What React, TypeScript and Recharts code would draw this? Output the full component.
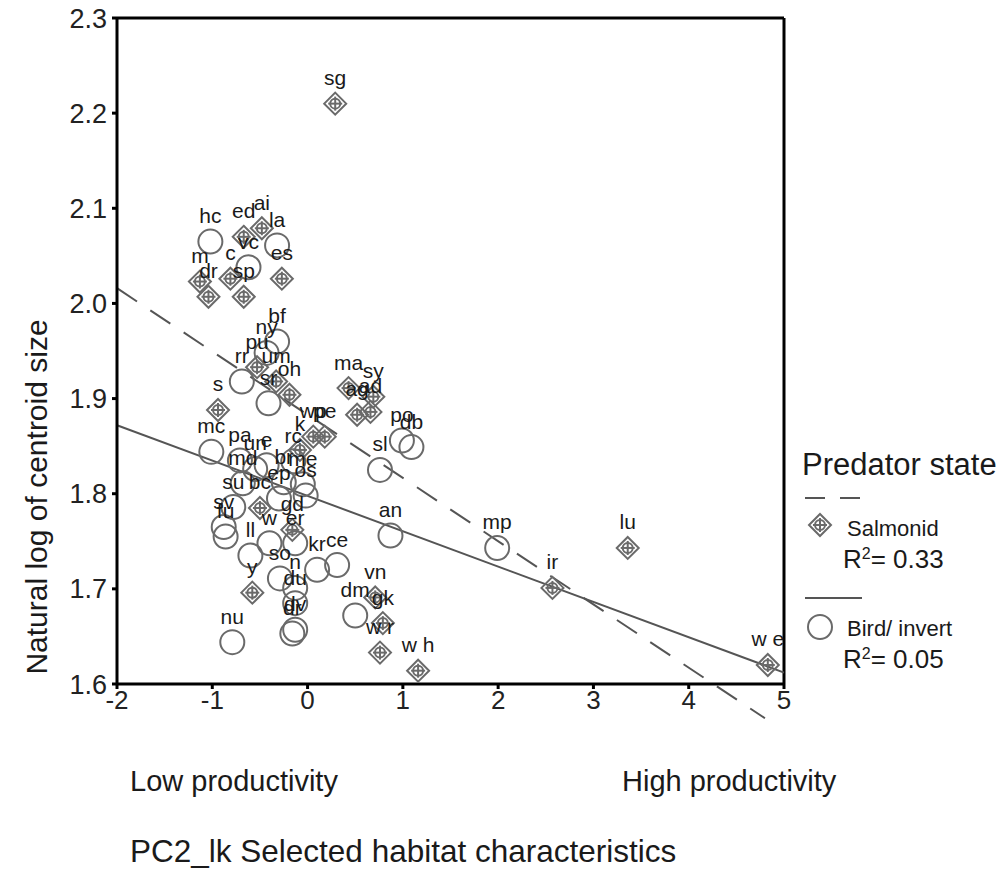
import React from 'react';
import {
  ScatterChart,
  Scatter,
  XAxis,
  YAxis,
  ReferenceLine,
  LabelList
} from 'recharts';

// Salmonid lakes (diamond markers)
const salmonidNames = ['sg', 'ai', 'ed', 'c', 'm', 'es', 'dr', 'sp', 'pu', 'um', 'oh', 's', 'ma', 'sy', 'ag', 'ad', 'wp', 'pe', 'k', 'bc', 'gd', 'y', 'vn', 'gk', 'w r', 'w h', 'ir', 'lu', 'w e'];
const salmonidX = [0.29, -0.48, -0.67, -0.81, -1.13, -0.27, -1.04, -0.67, -0.53, -0.33, -0.19, -0.94, 0.43, 0.69, 0.52, 0.66, 0.06, 0.18, -0.08, -0.5, -0.16, -0.58, 0.71, 0.79, 0.76, 1.16, 2.57, 3.36, 4.83];
const salmonidY = [2.21, 2.079, 2.07, 2.026, 2.023, 2.026, 2.007, 2.007, 1.933, 1.918, 1.904, 1.888, 1.911, 1.902, 1.883, 1.886, 1.86, 1.86, 1.846, 1.785, 1.762, 1.696, 1.691, 1.664, 1.633, 1.614, 1.701, 1.743, 1.62];

// Bird / invertebrate lakes (circle markers)
const birdNames = ['hc', 'la', 'vc', 'bf', 'ny', 'rr', 'sr', 'mc', 'pa', 'un', 'e', 'rc', 'md', 'br', 'me', 'su', 'ep', 'os', 'po', 'db', 'sl', 'sv', 'fu', 'w', 'er', 'll', 'kr', 'ce', 'so', 'n', 'du', 'dv', 'dr', 'dm', 'nu', 'an', 'mp'];
const birdX = [-1.02, -0.32, -0.62, -0.32, -0.43, -0.69, -0.41, -1.01, -0.71, -0.55, -0.43, -0.15, -0.68, -0.25, -0.05, -0.78, -0.3, -0.02, 0.99, 1.09, 0.76, -0.88, -0.86, -0.4, -0.13, -0.6, 0.1, 0.31, -0.29, -0.13, -0.13, -0.13, -0.16, 0.5, -0.79, 0.87, 1.99];
const birdY = [2.065, 2.061, 2.038, 1.96, 1.948, 1.918, 1.895, 1.844, 1.835, 1.826, 1.83, 1.834, 1.811, 1.812, 1.81, 1.786, 1.795, 1.798, 1.856, 1.849, 1.825, 1.765, 1.755, 1.748, 1.748, 1.735, 1.72, 1.725, 1.711, 1.701, 1.685, 1.657, 1.653, 1.672, 1.644, 1.756, 1.743];

const xTicks = [-2, -1, 0, 1, 2, 3, 4, 5];
const yTicks = [1.6, 1.7, 1.8, 1.9, 2.0, 2.1, 2.2, 2.3];

// fitted lines (start / end)
const salmonidFit = [{ x: -2, y: 2.016 }, { x: 4.8, y: 1.564 }];
const birdFit = [{ x: -2, y: 1.872 }, { x: 5, y: 1.612 }];

const salmonidData = salmonidNames.map((name, i) => ({ name, x: salmonidX[i], y: salmonidY[i] }));
const birdData = birdNames.map((name, i) => ({ name, x: birdX[i], y: birdY[i] }));

const FONT = '"Liberation Sans", Arial, sans-serif';
const MARK = '#6a6a6a';
const LINE = '#555555';

const Diamond = ({ cx, cy }: any) => (
  <g stroke={MARK} strokeWidth={2} fill="none">
    <path d={`M${cx},${cy - 11} L${cx + 11},${cy} L${cx},${cy + 11} L${cx - 11},${cy} Z`} />
    <circle cx={cx} cy={cy} r={5} />
    <line x1={cx - 7} y1={cy} x2={cx + 7} y2={cy} />
    <line x1={cx} y1={cy - 7} x2={cx} y2={cy + 7} />
  </g>
);

const Ring = ({ cx, cy }: any) => (
  <circle cx={cx} cy={cy} r={12} stroke={MARK} strokeWidth={2} fill="none" />
);

// point label, drawn as one line above the marker
const PointLabel = (props: any) => {
  const { x, y, width, value } = props;
  return (
    <text x={x + width / 2} y={y - 14} textAnchor="middle" fontSize={21} fill="#1a1a1a" fontFamily={FONT}>
      {value}
    </text>
  );
};

export default function App() {
  return (
    <div style={{ position: 'absolute', left: 0, top: 0, width: 1005, height: 869, background: '#fff', fontFamily: FONT }}>
      <ScatterChart
        width={1005}
        height={869}
        margin={{ top: 18, right: 221, bottom: 145, left: 37 }}
      >
        <XAxis
          type="number"
          dataKey="x"
          domain={[-2, 5]}
          ticks={xTicks}
          allowDataOverflow
          height={40}
          axisLine={{ stroke: '#000', strokeWidth: 3 }}
          tickLine={{ stroke: '#000', strokeWidth: 3 }}
          tickSize={5}
          tick={{ fontSize: 26, fill: '#222', fontFamily: FONT }}
        />
        <YAxis
          type="number"
          dataKey="y"
          domain={[1.6, 2.3]}
          ticks={yTicks}
          allowDataOverflow
          width={80}
          axisLine={{ stroke: '#000', strokeWidth: 3 }}
          tickLine={{ stroke: '#000', strokeWidth: 3 }}
          tickSize={5}
          tickMargin={5}
          tickFormatter={(v: number) => v.toFixed(1)}
          tick={{ fontSize: 27, fill: '#222', fontFamily: FONT }}
        />
        <ReferenceLine y={2.3} stroke="#000" strokeWidth={3} />
        <ReferenceLine x={5} stroke="#000" strokeWidth={3} />
        <ReferenceLine segment={salmonidFit} stroke={LINE} strokeWidth={2} strokeDasharray="24 16" ifOverflow="visible" />
        <ReferenceLine segment={birdFit} stroke={LINE} strokeWidth={2} ifOverflow="visible" />
        <Scatter data={birdData} shape={<Ring />} isAnimationActive={false}>
          <LabelList dataKey="name" content={<PointLabel />} />
        </Scatter>
        <Scatter data={salmonidData} shape={<Diamond />} isAnimationActive={false}>
          <LabelList dataKey="name" content={<PointLabel />} />
        </Scatter>
      </ScatterChart>

      <svg width={1005} height={869} style={{ position: 'absolute', left: 0, top: 0, pointerEvents: 'none' }}>
        <g fontFamily={FONT} fill="#1a1a1a">
          <text transform="translate(36,497) rotate(-90)" textAnchor="middle" dominantBaseline="central" fontSize={30}>
            Natural log of centroid size
          </text>
          <text x={130} y={791} fontSize={29}>Low productivity</text>
          <text x={622} y={791} fontSize={29}>High productivity</text>
          <text x={130} y={862} fontSize={31.5}>PC2_lk Selected habitat characteristics</text>

          <text x={802} y={475} fontSize={31}>Predator state</text>
          <line x1={805} y1={498} x2={862} y2={498} stroke={LINE} strokeWidth={2} strokeDasharray="20 15" />
          <Diamond cx={820} cy={525} />
          <text x={847} y={536} fontSize={22}>Salmonid</text>
          <text x={843} y={568} fontSize={26}>
            R<tspan fontSize={16} dy={-9}>2</tspan><tspan dy={9}>= 0.33</tspan>
          </text>
          <line x1={805} y1={598} x2={862} y2={598} stroke={LINE} strokeWidth={2} />
          <Ring cx={820} cy={627} />
          <text x={847} y={636} fontSize={22}>Bird/ invert</text>
          <text x={843} y={668} fontSize={26}>
            R<tspan fontSize={16} dy={-9}>2</tspan><tspan dy={9}>= 0.05</tspan>
          </text>
        </g>
      </svg>
    </div>
  );
}
